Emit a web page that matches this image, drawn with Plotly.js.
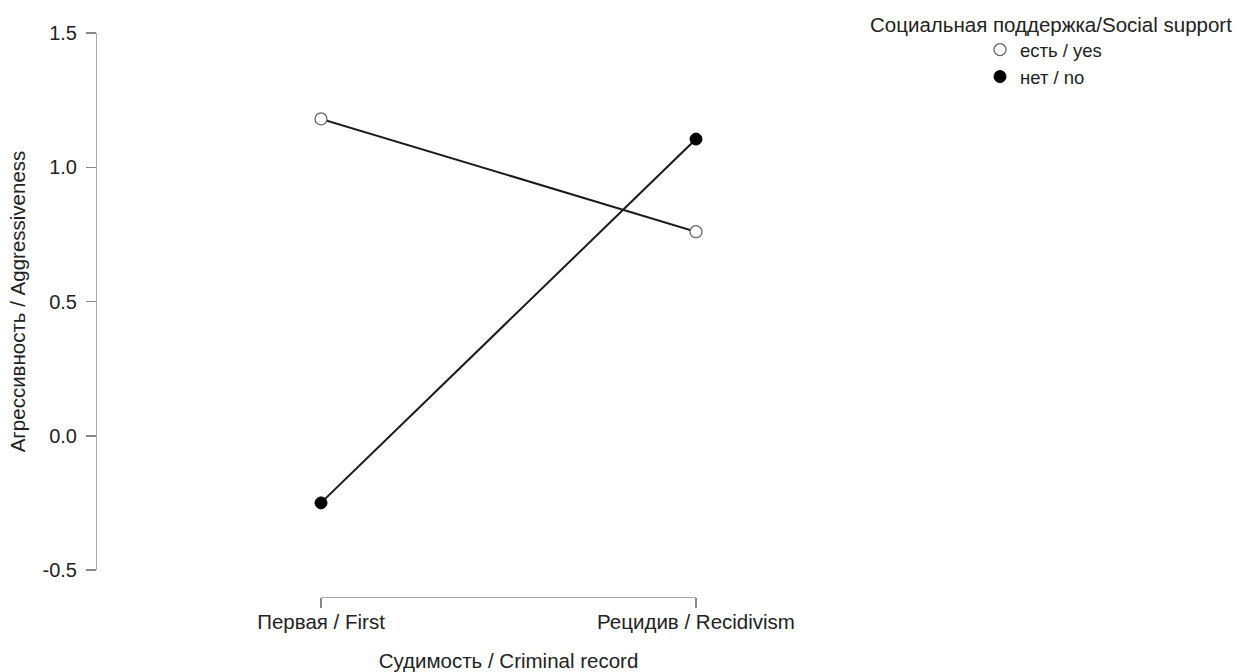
<!DOCTYPE html>
<html>
<head>
<meta charset="utf-8">
<script src="https://cdn.plot.ly/plotly-3.0.1.min.js"></script>
<style>html,body{margin:0;padding:0;background:#fff;}#chart{width:1240px;height:672px;}</style>
</head>
<body>
<div id="chart"></div>
<script>
var categories = ["Первая / First", "Рецидив / Recidivism"];
var yesValues = [1.18, 0.76];
var noValues = [-0.25, 1.105];
var seriesNames = ["есть / yes", "нет / no"];
var yTicks = [-0.5, 0, 0.5, 1.0, 1.5];
var yTickLabels = ["-0.5", "0.0", "0.5", "1.0", "1.5"];
var xIdx = categories.map(function(c, i){ return i; });

var W = 1240, H = 672;
var L = 96, R = 696, T = 33, B = 597;
var plotW = R - L, plotH = B - T;
function px2x(p){ return (p - L) / plotW; }
function px2y(p){ return (B - p) / plotH; }

var font = "Liberation Sans, Arial, sans-serif";
var lineStyle = {color: "#1a1a1a", width: 2};

var traces = [
  {x: xIdx, y: yesValues, mode: "lines", line: lineStyle, showlegend: false, cliponaxis: false, hoverinfo: "skip"},
  {x: xIdx, y: noValues, mode: "lines", line: lineStyle, showlegend: false, cliponaxis: false, hoverinfo: "skip"},
  {x: xIdx, y: yesValues, mode: "markers", name: seriesNames[0], cliponaxis: false,
   marker: {symbol: "circle", size: 12, color: "#fff", line: {color: "#666", width: 1.3}}},
  {x: xIdx, y: noValues, mode: "markers", name: seriesNames[1], cliponaxis: false,
   marker: {symbol: "circle", size: 12, color: "#000", line: {color: "#000", width: 1}}}
];

var layout = {
  width: W, height: H,
  margin: {l: L, r: W - R, t: T, b: H - B, pad: 0},
  paper_bgcolor: "#fff", plot_bgcolor: "#fff",
  font: {family: font, size: 20, color: "#222"},
  showlegend: true,
  xaxis: {
    domain: [px2x(321), 1],
    range: [0, 1],
    anchor: "free", position: 0,
    tickvals: xIdx, ticktext: categories,
    showline: true, linecolor: "#aaa", linewidth: 1,
    ticks: "outside", ticklen: 10, tickcolor: "#888", tickwidth: 1.5,
    ticklabelstandoff: -4,
    showgrid: false, zeroline: false,
    tickfont: {size: 20.5, color: "#222"},
    title: {text: "Судимость / Criminal record", font: {size: 20.5, color: "#222"}, standoff: 23}
  },
  yaxis: {
    domain: [px2y(570), 1],
    range: [-0.5, 1.5],
    anchor: "free", position: 0,
    tickvals: yTicks, ticktext: yTickLabels,
    showline: true, linecolor: "#aaa", linewidth: 1,
    ticks: "outside", ticklen: 10, tickcolor: "#888", tickwidth: 1.5,
    ticklabelstandoff: 5,
    showgrid: false, zeroline: false,
    tickfont: {size: 20, color: "#222"},
    title: {text: "Агрессивность / Aggressiveness", font: {size: 20.5, color: "#222"}, standoff: 10}
  },
  legend: {
    x: px2x(980), y: px2y(31), xanchor: "left", yanchor: "top",
    font: {size: 18.5, color: "#222"},
    bgcolor: "rgba(0,0,0,0)", borderwidth: 0,
    tracegroupgap: 0, itemwidth: 30
  },
  annotations: [{
    text: "Социальная поддержка/Social support",
    xref: "paper", yref: "paper", x: px2x(1051), y: px2y(25),
    xanchor: "center", yanchor: "middle", showarrow: false,
    font: {size: 20.5, color: "#222"}
  }]
};

Plotly.newPlot("chart", traces, layout, {displayModeBar: false, staticPlot: true});
</script>
</body>
</html>
